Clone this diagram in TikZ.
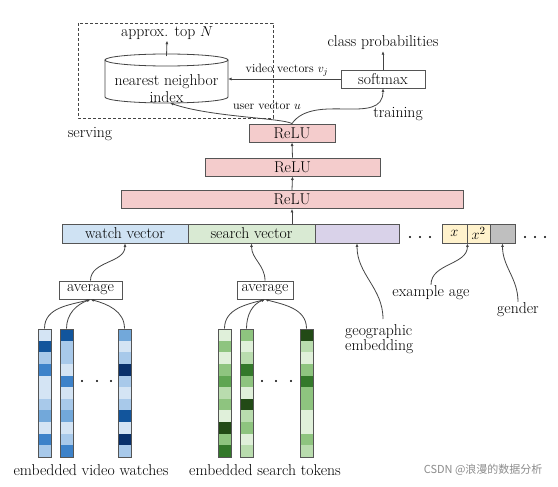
\documentclass[tikz,border=0pt]{standalone}
\usepackage{fontspec}
\newfontfamily\cjk{Noto Sans CJK SC}
\usetikzlibrary{arrows.meta,calc}
\definecolor{b1}{HTML}{D4E4F4}
\definecolor{b2}{HTML}{A8C9EA}
\definecolor{b3}{HTML}{72A8DA}
\definecolor{b4}{HTML}{3D82C9}
\definecolor{b5}{HTML}{12559C}
\definecolor{b6}{HTML}{08306B}
\definecolor{g1}{HTML}{E0F0DA}
\definecolor{g2}{HTML}{B9DCAE}
\definecolor{g3}{HTML}{8EC47F}
\definecolor{g4}{HTML}{5FA552}
\definecolor{g5}{HTML}{33782A}
\definecolor{g6}{HTML}{224A16}
\definecolor{wvc}{HTML}{CFE2F3}
\definecolor{svc}{HTML}{D9EAD3}
\definecolor{geoc}{HTML}{D9D2E9}
\definecolor{yelc}{HTML}{FFF2CC}
\definecolor{gryc}{HTML}{BFBFBF}
\definecolor{reluc}{HTML}{F4CCCC}
\definecolor{edge}{HTML}{555555}
\definecolor{conn}{HTML}{444444}
\tikzset{
  txt/.style={font=\fontsize{15.7}{17}\selectfont, inner sep=1pt},
  small/.style={font=\fontsize{12.2}{14}\selectfont, inner sep=1pt},
  box/.style={draw=edge, line width=0.9pt, minimum height=18pt, inner sep=0pt, font=\fontsize{15.7}{17}\selectfont},
  arr/.style={draw=conn, line width=0.8pt, -{Latex[length=3.5pt,width=3pt]}},
  col/.style={draw=edge, line width=1pt, minimum width=13pt, minimum height=128pt, inner sep=0pt},
}
\begin{document}
\begin{tikzpicture}[x=1pt,y=1pt]
\useasboundingbox (0,0) rectangle (558,-487);
\fill[white] (0,0) rectangle (558,-487);

% dashed serving box
\draw[dashed, dash pattern=on 3pt off 2pt, draw=conn, line width=0.7pt] (78,-23) rectangle (273,-118);

% cylinder
\draw[draw=conn, line width=0.8pt, fill=white] (105,-60) -- (105,-97) arc[start angle=180,end angle=360,x radius=61.5,y radius=6] -- (228,-60);
\draw[draw=conn, line width=0.8pt] (166.5,-60) ellipse[x radius=61.5, y radius=6];
\coordinate (nntop) at (166.5,-56);
\coordinate (nnbot) at (170,-103);
\coordinate (nnright) at (228,-79);
\node[txt, inner sep=0pt] (nn1) at (166.5,-81.5) {nearest neighbor};
\node[txt, inner sep=0pt] (nn2) at (166.5,-97.5) {index};

\node[txt] (topn) at (167,-33) {approx. top $N$};
\draw[arr] (nntop) -- (topn.south);

\node[box, minimum width=84pt] (soft) at (383,-79) {softmax};
\node[txt] (cp) at (383,-43) {class probabilities};
\draw[arr] (soft.north) -- (cp.south);
\draw[arr] (soft.west) -- (nnright);
\node[small] (vv) at (287,-70) {video vectors $v_j$};
\node[small] (uv) at (267,-106) {user vector $u$};
\node[txt] (serving) at (90,-134) {serving};
\node[txt] (training) at (398,-114) {training};

% ReLU stack
\node[box, fill=reluc, minimum width=86pt] (r3) at (292,-133) {ReLU};
\node[box, fill=reluc, minimum width=175pt] (r2) at (292.5,-167) {ReLU};
\node[box, fill=reluc, minimum width=342pt] (r1) at (292,-199.5) {ReLU};
\draw[arr] (r1.north) -- (r2.south);
\draw[arr] (r2.north) -- (r3.south);
\draw[arr] (r3.north) .. controls (282,-118) and (210,-117) .. (nnbot);
\draw[arr] (r3.north) to[out=55,in=-90] (soft.south);

% feature row
\node[box, fill=wvc, minimum width=126pt, minimum height=19pt] (wv) at (125,-233.5) {watch vector};
\node[box, fill=svc, minimum width=127pt, minimum height=19pt] (sv) at (251.5,-233.5) {search vector};
\node[box, fill=geoc, minimum width=84pt, minimum height=19pt] (geo) at (357,-233.5) {};
\node[box, fill=yelc, minimum width=25pt, minimum height=19pt] (xa) at (454.5,-233.5) {$x$};
\node[box, fill=yelc, minimum width=23pt, minimum height=19pt] (xb) at (478.5,-233.5) {$x^2$};
\node[box, fill=gryc, minimum width=25pt, minimum height=19pt] (gd) at (502.5,-233.5) {};
\coordinate (rowtop) at (292,-224);
\draw[arr] (rowtop) -- (r1.south);
\foreach \x in {410,420,430,525,535,545} \fill[black] (\x,-237) circle (1.2pt);

% averages
\node[box, minimum width=63pt] (avg1) at (90.5,-290) {average};
\node[box, minimum width=56pt] (avg2) at (265,-290) {average};
\draw[arr] (avg1.north) to[out=90,in=-90] (wv.south);
\draw[arr] (avg2.north) to[out=90,in=-90] (sv.south);

% labels with curves
\node[txt, align=left, anchor=west] (geolab) at (344,-339) {geographic\\[-2pt]embedding};
\coordinate (geostart) at (383,-319);
\draw[arr] (geostart) to[out=90,in=-90] (geo.south);
\node[txt] (eage) at (431,-293) {example age};
\draw[arr] (eage.north) to[out=90,in=-90] (xa.south east);
\node[txt] (gender) at (518,-310) {gender};
\draw[arr] (gender.north) to[out=90,in=-90] (gd.south);

% blue columns
\def\ch{11.636}
\foreach \c [count=\i] in {b1,b5,b2,b4,b1,b1,b2,b3,b1,b4,b2}
  \fill[\c] (38,{-329-(\i-1)*\ch}) rectangle (51,{-329-\i*\ch});
\foreach \c [count=\i] in {b5,b2,b2,b1,b4,b1,b2,b3,b1,b2,b4}
  \fill[\c] (60,{-329-(\i-1)*\ch}) rectangle (73,{-329-\i*\ch});
\foreach \c [count=\i] in {b3,b1,b2,b6,b2,b1,b2,b5,b1,b6,b2}
  \fill[\c] (118,{-329-(\i-1)*\ch}) rectangle (131,{-329-\i*\ch});
\node[col] (c1) at (44.5,-393) {};
\node[col] (c2) at (66.5,-393) {};
\node[col] (c3) at (124.5,-393) {};
\foreach \x in {82,97,111} \fill[black] (\x,-381) circle (1.2pt);
\draw[arr] (c1.north) to[out=90,in=195] (avg1.south);
\draw[arr] (c2.north) to[out=90,in=200] (avg1.south);
\draw[arr] (c3.north) to[out=90,in=-15] (avg1.south);

% green columns
\foreach \c [count=\i] in {g1,g3,g1,g3,g4,g2,g3,g1,g6,g3,g5}
  \fill[\c] (218,{-329-(\i-1)*\ch}) rectangle (231,{-329-\i*\ch});
\foreach \c [count=\i] in {g3,g1,g2,g5,g3,g1,g6,g2,g3,g1,g2}
  \fill[\c] (240,{-329-(\i-1)*\ch}) rectangle (253,{-329-\i*\ch});
\foreach \c [count=\i] in {g6,g2,g1,g3,g5,g3,g3,g1,g1,g3,g2}
  \fill[\c] (300,{-329-(\i-1)*\ch}) rectangle (313,{-329-\i*\ch});
\node[col] (d1) at (224.5,-393) {};
\node[col] (d2) at (246.5,-393) {};
\node[col] (d3) at (306.5,-393) {};
\foreach \x in {262,276,291} \fill[black] (\x,-381) circle (1.2pt);
\draw[arr] (d1.north) to[out=90,in=195] (avg2.south);
\draw[arr] (d2.north) to[out=90,in=200] (avg2.south);
\draw[arr] (d3.north) to[out=90,in=-15] (avg2.south);

\node[txt] (evw) at (91,-470) {embedded video watches};
\node[txt] (est) at (265,-470) {embedded search tokens};
\node[font=\cjk\fontsize{11}{13}\selectfont, text=black!45, anchor=east] (wm) at (546,-470) {CSDN @浪漫的数据分析};
\end{tikzpicture}
\end{document}
